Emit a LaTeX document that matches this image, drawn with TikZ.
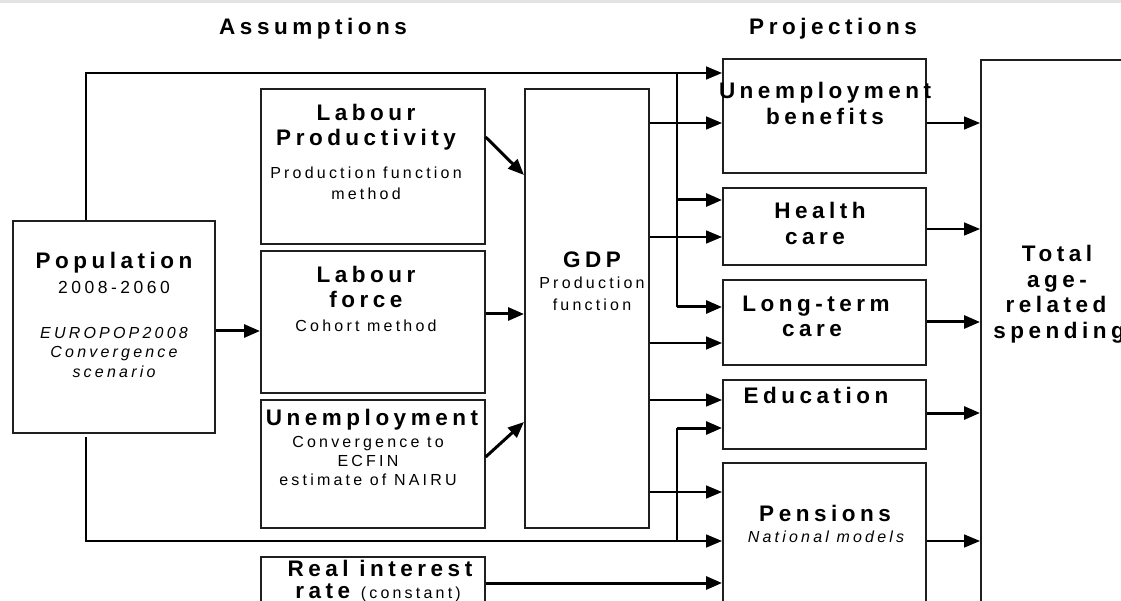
\documentclass[tikz,border=0pt]{standalone}
\usepackage{fontspec}
\setmainfont{Liberation Sans}[LetterSpace=20]
\usetikzlibrary{arrows.meta}
\begin{document}
\begin{tikzpicture}[x=1pt,y=-1pt,
  box/.style={draw=black!88, line width=1.6pt, inner sep=0pt, anchor=north west},
  ttl/.style={font=\bfseries\fontsize{22.5}{25}\selectfont, anchor=base, inner sep=0pt},
  mid/.style={font=\fontsize{17.5}{20}\selectfont, anchor=base, inner sep=0pt},
  sub/.style={font=\fontsize{16}{20}\selectfont, anchor=base, inner sep=0pt},
  subit/.style={font=\itshape\fontsize{16}{20}\selectfont, anchor=base, inner sep=0pt},
  wire/.style={line width=1.6pt},
  link/.style={line width=1.6pt, -{Triangle[length=16pt,width=13pt]}},
  heavy/.style={line width=3pt, -{Triangle[length=16pt,width=13pt]}}]
\useasboundingbox (0,0) rectangle (1121,601);
\clip (0,0) rectangle (1121,601);
\fill[black!11] (0,0) rectangle (1121,3);

% column headings
\node[ttl] (hA) at (313,35) {Assumptions};
\node[ttl] (hP) at (833,35) {Projections};

% assumption boxes
\node[box, minimum width=202pt, minimum height=212pt] (pop) at (12,220) {};
\node[box, minimum width=224pt, minimum height=155pt] (lp)  at (260,88) {};
\node[box, minimum width=224pt, minimum height=142pt] (lf)  at (260,250) {};
\node[box, minimum width=224pt, minimum height=128pt] (un)  at (260,399) {};
\node[box, minimum width=224pt, minimum height=80pt]  (ri)  at (260,556) {};
\node[box, minimum width=124pt, minimum height=439pt] (gdp) at (524,88) {};

% projection boxes
\node[box, minimum width=203pt, minimum height=114pt] (ub)  at (722,58) {};
\node[box, minimum width=203pt, minimum height=77pt]  (hc)  at (722,187) {};
\node[box, minimum width=203pt, minimum height=85pt]  (ltc) at (722,279) {};
\node[box, minimum width=203pt, minimum height=69pt]  (edu) at (722,379) {};
\node[box, minimum width=203pt, minimum height=180pt] (pen) at (722,462) {};
\node[box, minimum width=170pt, minimum height=580pt] (tot) at (980,59) {};

% texts
\node[ttl]   (popA) at (114,269) {Population};
\node[mid]   (popB) at (114,294) {2008-2060};
\node[subit] (popC) at (114,338) {EUROPOP2008};
\node[subit] (popD) at (114,357) {Convergence};
\node[subit] (popE) at (114,377) {scenario};

\node[ttl] (lpA) at (366,121) {Labour};
\node[ttl] (lpB) at (366,146) {Productivity};
\node[sub] (lpC) at (366,179) {Production function};
\node[sub] (lpD) at (366,200) {method};

\node[ttl] (lfA) at (366,283) {Labour};
\node[ttl] (lfB) at (366,308) {force};
\node[sub] (lfC) at (366,331) {Cohort method};

\node[ttl] (unA) at (372,425) {Unemployment};
\node[sub] (unB) at (368,447) {Convergence to};
\node[sub] (unC) at (368,466) {ECFIN};
\node[sub] (unD) at (368,485) {estimate of NAIRU};

\node[ttl] (riA) at (380,576) {Real interest};
\node[ttl] (riB) at (378,598) {rate \mdseries\fontsize{16}{20}\selectfont(constant)};

\node[ttl] (gdpA) at (592,268) {GDP};
\node[sub] (gdpB) at (592,289) {Production};
\node[sub] (gdpC) at (592,311) {function};

\node[ttl] (ubA) at (825,99) {Unemployment};
\node[ttl] (ubB) at (825,125) {benefits};
\node[ttl] (hcA) at (820,219) {Health};
\node[ttl] (hcB) at (815,245) {care};
\node[ttl] (ltA) at (816,312) {Long-term};
\node[ttl] (ltB) at (812,337) {care};
\node[ttl] (edA) at (816,403) {Education};
\node[ttl] (peA) at (825,521) {Pensions};
\node[subit] (peB) at (826,542) {National models};

\node[ttl] (toA) at (1057,262) {Total};
\node[ttl] (toB) at (1057,288) {age-};
\node[ttl] (toC) at (1056,313) {related};
\node[ttl] (toD) at (1059,338) {spending};

% population feeds
\coordinate (popTop) at (86,220);
\coordinate (popBot) at (86,437);
\draw[link] (popTop) |- (ub.west |- 0,73);
\draw[link] (popBot) |- (pen.west |- 0,541);
\draw[heavy] (pop.east |- 0,331) -- (lf.west |- 0,331);

% inputs to GDP
\draw[heavy] (lp.east |- 0,137) -- (gdp.west |- 0,175);
\draw[heavy] (lf.east |- 0,314) -- (gdp.west |- 0,314);
\draw[heavy] (un.east |- 0,457) -- (gdp.west |- 0,422);

% upper bus from the population line
\coordinate (busTop) at (677,73);
\coordinate (busBot) at (677,307);
\draw[wire] (busTop) -- (busBot);
\draw[heavy] (busTop |- 0,200) -- (hc.west |- 0,200);
\draw[heavy] (busBot) -- (ltc.west |- busBot);

% lower bus from the population line
\coordinate (bus2Bot) at (677,541);
\coordinate (bus2Top) at (677,428);
\draw[wire] (bus2Bot) -- (bus2Top);
\draw[heavy] (bus2Top) -- (edu.west |- bus2Top);

% GDP outputs
\draw[link] (gdp.east |- 0,123) -- (ub.west |- 0,123);
\draw[link] (gdp.east |- 0,237) -- (hc.west |- 0,237);
\draw[link] (gdp.east |- 0,343) -- (ltc.west |- 0,343);
\draw[link] (gdp.east |- 0,400) -- (edu.west |- 0,400);
\draw[link] (gdp.east |- 0,492) -- (pen.west |- 0,492);

% interest rate
\draw[heavy] (ri.east |- 0,583) -- (pen.west |- 0,583);

% projections to total
\draw[link]  (ub.east |- 0,123)  -- (tot.west |- 0,123);
\draw[link]  (hc.east |- 0,229)  -- (tot.west |- 0,229);
\draw[heavy] (ltc.east |- 0,322) -- (tot.west |- 0,322);
\draw[heavy] (edu.east |- 0,413) -- (tot.west |- 0,413);
\draw[link]  (pen.east |- 0,541) -- (tot.west |- 0,541);
\end{tikzpicture}
\end{document}
